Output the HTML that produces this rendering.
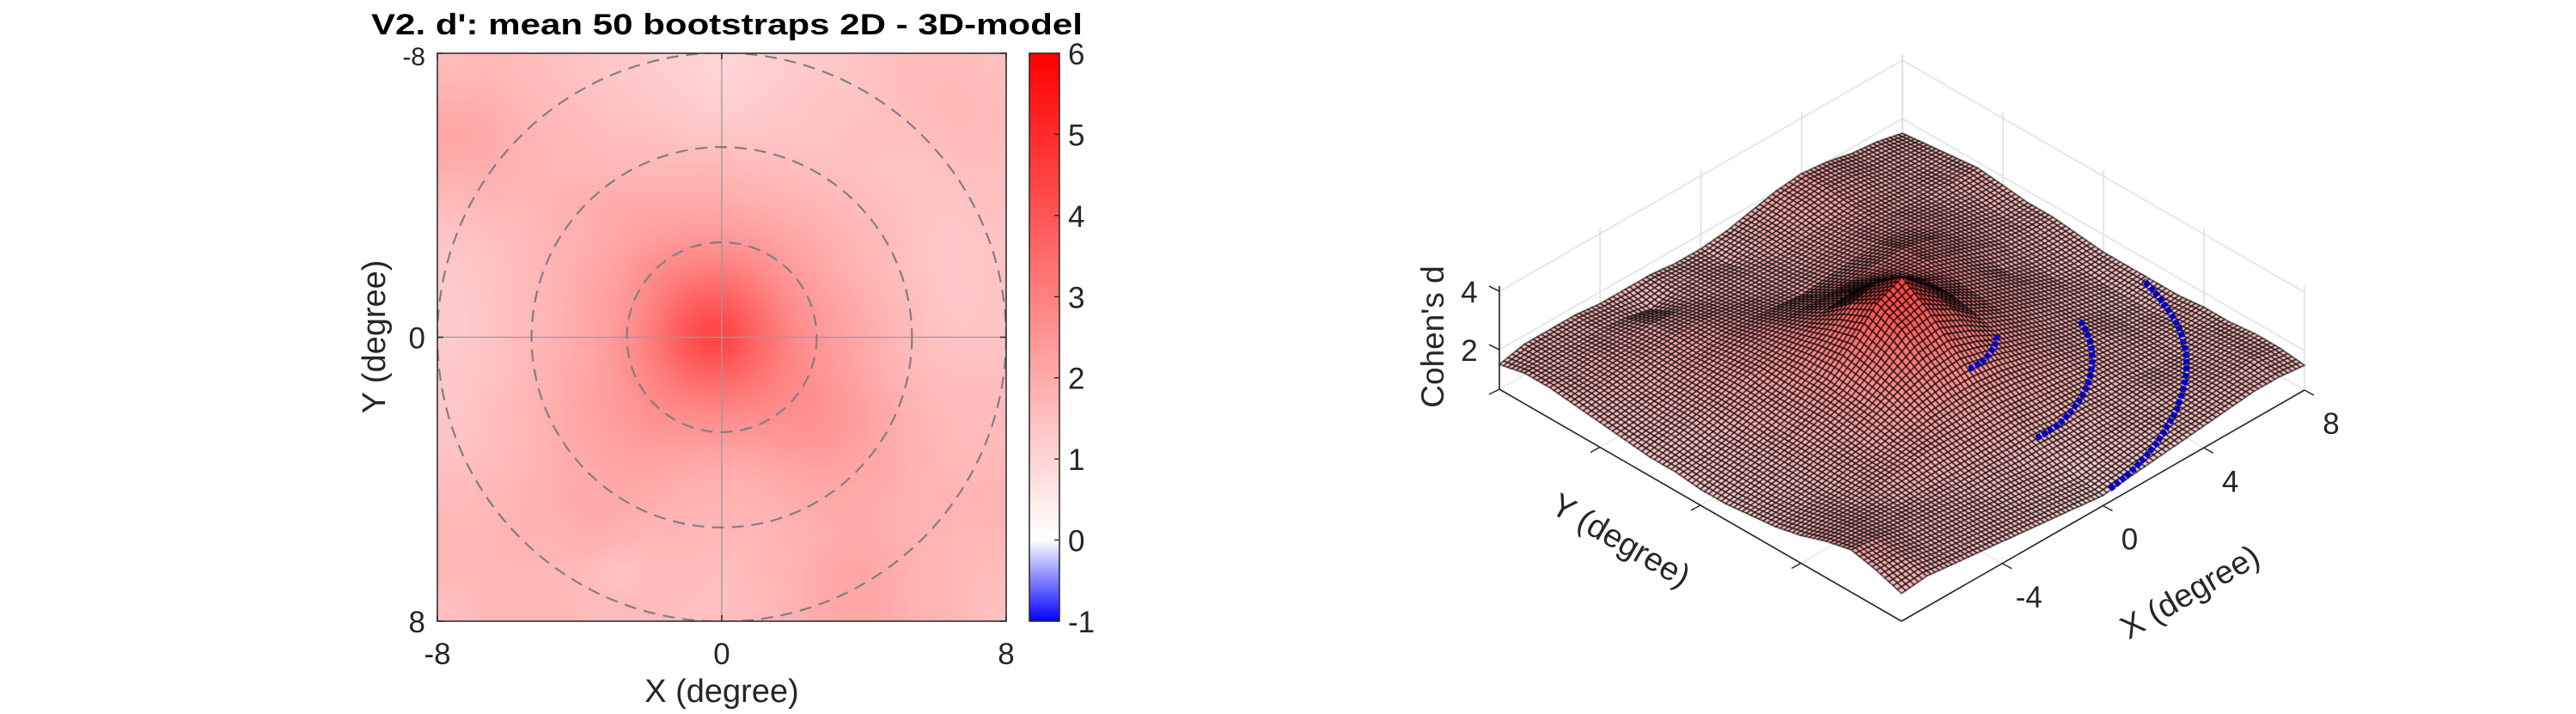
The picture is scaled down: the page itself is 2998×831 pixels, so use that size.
<!DOCTYPE html>
<html><head><meta charset="utf-8">
<style>
html,body{margin:0;padding:0;background:#fff;}
#wrap{position:relative;width:2998px;height:831px;overflow:hidden;background:#fff;font-family:"Liberation Sans",Arial,sans-serif;}
canvas,svg{position:absolute;}
</style></head>
<body>
<div id="wrap">
<canvas id="heat" width="662" height="661" style="left:509px;top:62px;"></canvas>
<canvas id="surf" width="1300" height="831" style="left:1600px;top:0px;"></canvas>
<svg id="ov" width="2998" height="831" style="left:0;top:0;"></svg>
</div>
<script>
// ---- data ----
const xTicks = [-8, 0, 8];
const yTicks = [-8, 0, 8];
const cbTicks = [6, 5, 4, 3, 2, 1, 0, -1];
const circleRadii = [2.67, 5.35, 8.0];
const zTicks = [2, 4];
const xTicks3d = [-4, 0, 4, 8];
const arcStartDeg = [-90, -90, -88];
const arcEndDeg = [-45, -23, -13];
// rows y=-8..8, columns x=-8..8
const gridRows = [
[1.6,1.7,1.6,1.5,1.4,1.3,1.2,1.1,1.0,1.1,1.2,1.3,1.4,1.5,1.6,1.6,1.5],
[1.9,1.9,1.7,1.6,1.5,1.4,1.3,1.2,1.1,1.2,1.3,1.4,1.4,1.5,1.6,1.7,1.6],
[2.1,2.0,1.8,1.7,1.6,1.5,1.5,1.4,1.4,1.4,1.4,1.4,1.5,1.5,1.5,1.6,1.6],
[1.9,1.9,1.8,1.7,1.7,1.7,1.7,1.7,1.7,1.6,1.6,1.5,1.5,1.4,1.4,1.5,1.5],
[1.6,1.7,1.7,1.8,1.9,2.0,2.0,2.0,2.0,1.9,1.8,1.7,1.6,1.5,1.4,1.4,1.5],
[1.4,1.5,1.6,1.8,1.9,2.1,2.3,2.4,2.4,2.3,2.1,1.9,1.7,1.6,1.4,1.3,1.4],
[1.3,1.4,1.6,1.8,2.0,2.3,2.7,3.0,3.1,2.8,2.4,2.1,1.8,1.6,1.4,1.3,1.4],
[1.2,1.4,1.6,1.8,2.1,2.4,3.0,3.7,3.9,3.4,2.7,2.3,2.0,1.7,1.5,1.3,1.4],
[1.2,1.4,1.6,1.8,2.1,2.5,3.2,4.1,4.5,3.7,2.9,2.4,2.1,1.8,1.5,1.4,1.4],
[1.3,1.4,1.6,1.9,2.1,2.5,3.0,3.6,3.8,3.4,2.9,2.5,2.2,1.8,1.6,1.5,1.5],
[1.3,1.5,1.7,1.9,2.2,2.4,2.7,2.9,3.0,2.9,2.7,2.6,2.3,2.0,1.7,1.6,1.6],
[1.4,1.5,1.7,1.9,2.1,2.3,2.4,2.4,2.4,2.4,2.5,2.5,2.3,2.0,1.8,1.6,1.6],
[1.5,1.6,1.7,1.9,2.0,2.1,2.1,2.0,1.9,2.0,2.1,2.2,2.1,2.0,1.8,1.7,1.7],
[1.6,1.7,1.8,1.9,2.0,2.0,1.9,1.8,1.8,1.8,1.9,2.0,2.0,1.9,1.8,1.8,1.8],
[1.7,1.7,1.8,1.8,1.9,1.8,1.7,1.7,1.7,1.7,1.8,1.9,2.0,1.9,1.8,1.7,1.7],
[1.7,1.7,1.7,1.7,1.6,1.4,1.6,1.6,1.5,1.7,1.8,2.0,2.1,2.0,1.8,1.7,1.6],
[1.5,1.7,1.7,1.7,1.6,1.6,1.6,1.5,1.5,1.6,1.8,2.0,2.1,2.0,1.8,1.7,1.5]
];

// ---- helpers ----
const NS = "http://www.w3.org/2000/svg";
const ov = document.getElementById('ov');
function mk(tag, attrs, parent){ const e=document.createElementNS(NS,tag); for(const k in attrs) e.setAttribute(k,attrs[k]); (parent||ov).appendChild(e); return e; }
function cmap(v){ if(v>=0){const t=Math.min(v/6,1); const c=Math.round(255*(1-t)); return [255,c,c];} const t=Math.max(1+v,0); const c=Math.round(255*t); return [c,c,255]; }
const NG = gridRows.length;
function zAt(x,y){
  let fx=(x+8)/16*(NG-1), fy=(y+8)/16*(NG-1);
  fx=Math.max(0,Math.min(NG-1,fx)); fy=Math.max(0,Math.min(NG-1,fy));
  const i0=Math.min(Math.floor(fx),NG-2), j0=Math.min(Math.floor(fy),NG-2);
  const tx=fx-i0, ty=fy-j0;
  const a=gridRows[j0][i0], b=gridRows[j0][i0+1], c=gridRows[j0+1][i0], d=gridRows[j0+1][i0+1];
  return (a*(1-tx)+b*tx)*(1-ty)+(c*(1-tx)+d*tx)*ty;
}

// ---- 2D heatmap ----
const H = {l:509, t:62, w:662, h:661};
const sx = v => H.l + (v+8)/16*H.w;
const sy = v => H.t + (v+8)/16*H.h;
(function(){
  const off=document.createElement('canvas'); off.width=NG; off.height=NG;
  const oc=off.getContext('2d'); const img=oc.createImageData(NG,NG);
  for(let j=0;j<NG;j++) for(let i=0;i<NG;i++){ const c=cmap(gridRows[j][i]); const p=(j*NG+i)*4; img.data[p]=c[0];img.data[p+1]=c[1];img.data[p+2]=c[2];img.data[p+3]=255; }
  oc.putImageData(img,0,0);
  const ctx=document.getElementById('heat').getContext('2d');
  ctx.imageSmoothingEnabled=true; ctx.imageSmoothingQuality='high';
  ctx.drawImage(off,0,0,H.w,H.h);
})();
const g2 = mk('g',{});
 
const clipD = mk('defs',{},g2);
const cp = mk('clipPath',{id:'hclip'},clipD);
mk('rect',{x:H.l,y:H.t,width:H.w,height:H.h},cp);
let e;
e=mk('line',{x1:sx(0),y1:H.t,x2:sx(0),y2:H.t+H.h,stroke:'#9a9a9a','stroke-width':1.3},g2);
 
e=mk('line',{x1:H.l,y1:sy(0),x2:H.l+H.w,y2:sy(0),stroke:'#9a9a9a','stroke-width':1.3},g2);
 
circleRadii.forEach((r,k)=>{
  const c=mk('circle',{cx:sx(0),cy:sy(0),r:r/16*H.w,fill:'none',stroke:'#808080','stroke-width':2.2,'stroke-dasharray':'14 9','clip-path':'url(#hclip)'},g2);
   
});
e=mk('rect',{x:H.l,y:H.t,width:H.w,height:H.h,fill:'none',stroke:'#262626','stroke-width':1.5},g2);
 
xTicks.forEach(v=>{
  mk('line',{x1:sx(v),y1:H.t+H.h,x2:sx(v),y2:H.t+H.h-7,stroke:'#262626','stroke-width':1.5},g2);
  mk('line',{x1:sx(v),y1:H.t,x2:sx(v),y2:H.t+7,stroke:'#262626','stroke-width':1.5},g2);
  const t=mk('text',{x:sx(v),y:773,'font-size':35,fill:'#262626','text-anchor':'middle'},g2); t.textContent=v;
   
});
yTicks.forEach(v=>{
  mk('line',{x1:H.l,y1:sy(v),x2:H.l+7,y2:sy(v),stroke:'#262626','stroke-width':1.5},g2);
  mk('line',{x1:H.l+H.w,y1:sy(v),x2:H.l+H.w-7,y2:sy(v),stroke:'#262626','stroke-width':1.5},g2);
  const top = v===yTicks[0];
  const t=mk('text',{x:495,y:top?76:sy(v)+13,'font-size':top?30:35,fill:'#262626','text-anchor':'end'},g2); t.textContent=v;
   
});
e=mk('text',{x:840,y:817,'font-size':38,fill:'#262626','text-anchor':'middle'},g2); e.textContent='X (degree)';
 
e=mk('text',{x:0,y:0,'font-size':38,fill:'#262626','text-anchor':'middle',transform:'translate(448,392) rotate(-90)'},g2); e.textContent='Y (degree)';
 
e=mk('text',{x:846,y:40,'font-size':34,'font-weight':'bold',fill:'#000','text-anchor':'middle',textLength:828,lengthAdjust:'spacingAndGlyphs'},g2);
e.textContent="V2. d': mean 50 bootstraps 2D - 3D-model";
 

// colorbar
const CB={l:1198,t:62,w:35,h:661,min:-1,max:6};
const cby = v => CB.t + (CB.max-v)/(CB.max-CB.min)*CB.h;
const cbg=mk('g',{});
 
const lg=mk('linearGradient',{id:'cbgrad',x1:0,y1:0,x2:0,y2:1},mk('defs',{},cbg));
mk('stop',{offset:'0','stop-color':'#ff0000'},lg);
mk('stop',{offset:((CB.max-0)/(CB.max-CB.min)).toFixed(4),'stop-color':'#ffffff'},lg);
mk('stop',{offset:'1','stop-color':'#0000ff'},lg);
mk('rect',{x:CB.l,y:CB.t,width:CB.w,height:CB.h,fill:'url(#cbgrad)',stroke:'#262626','stroke-width':1.5},cbg);
cbTicks.forEach(v=>{
  mk('line',{x1:CB.l+CB.w,y1:cby(v),x2:CB.l+CB.w-6,y2:cby(v),stroke:'#262626','stroke-width':1.3},cbg);
  const t=mk('text',{x:1243,y:cby(v)+13,'font-size':35,fill:'#262626'},cbg); t.textContent=v;
   
});

// ---- 3D surface ----
const P = {B:[2213,723], L:[1745,453], R:[2682,454], zmin:0.65, zs:34};
function proj(x,y,z){
  const fx=(x+8)/16, fy=(y+8)/16;
  return [P.B[0]+fx*(P.R[0]-P.B[0])+fy*(P.L[0]-P.B[0]),
          P.B[1]+fx*(P.R[1]-P.B[1])+fy*(P.L[1]-P.B[1])-(z-P.zmin)*P.zs];
}
const g3=mk('g',{});
 
const sc=document.getElementById('surf').getContext('2d');
const OX=1600;
function line(ctx,a,b,col,w){ctx.strokeStyle=col;ctx.lineWidth=w;ctx.beginPath();ctx.moveTo(a[0]-OX,a[1]);ctx.lineTo(b[0]-OX,b[1]);ctx.stroke();}
const gc='#dedede';
[-8,-4,0,4,8].forEach(v=>{
  line(sc,proj(v,8,P.zmin),proj(v,8,4.2),gc,1.6);
  line(sc,proj(8,v,P.zmin),proj(8,v,4.2),gc,1.6);
  line(sc,proj(v,-8,P.zmin),proj(v,8,P.zmin),gc,1.4);
  line(sc,proj(-8,v,P.zmin),proj(8,v,P.zmin),gc,1.4);
});
zTicks.forEach(z=>{ line(sc,proj(-8,8,z),proj(8,8,z),gc,1.6); line(sc,proj(8,8,z),proj(8,-8,z),gc,1.6); });
const N=96;
const Zs=[];
for(let j=0;j<=N;j++){Zs.push([]);for(let i=0;i<=N;i++){Zs[j].push(zAt(-8+16*i/N,-8+16*j/N));}}
const Ps=[];
for(let j=0;j<=N;j++){Ps.push([]);for(let i=0;i<=N;i++){Ps[j].push(proj(-8+16*i/N,-8+16*j/N,Zs[j][i]));}}
sc.lineWidth=1.35; sc.strokeStyle='rgba(0,0,0,0.85)';
for(let s=2*N-2;s>=0;s--){
  for(let i=Math.max(0,s-(N-1));i<=Math.min(N-1,s);i++){
    const j=s-i;
    const zc=(Zs[j][i]+Zs[j][i+1]+Zs[j+1][i]+Zs[j+1][i+1])/4;
    const c=cmap(zc);
    sc.fillStyle='rgb('+c[0]+','+c[1]+','+c[2]+')';
    const a=Ps[j][i],b=Ps[j][i+1],d=Ps[j+1][i+1],f=Ps[j+1][i];
    sc.beginPath();sc.moveTo(a[0]-OX,a[1]);sc.lineTo(b[0]-OX,b[1]);sc.lineTo(d[0]-OX,d[1]);sc.lineTo(f[0]-OX,f[1]);sc.closePath();
    sc.fill();sc.stroke();
  }
}
circleRadii.forEach((r,k)=>{
  const pts=[];
  for(let t=0;t<=60;t++){
    const a=(arcStartDeg[k]+(arcEndDeg[k]-arcStartDeg[k])*t/60)*Math.PI/180;
    const x=r*Math.cos(a), y=r*Math.sin(a);
    pts.push(proj(x,y,zAt(x,y)+0.05).join(','));
  }
  const pl=mk('polyline',{points:pts.join(' '),fill:'none',stroke:'#0000c8','stroke-width':7,'stroke-dasharray':'6 2'},g3);
   
});
function sl(a,b,col,w,name){const l=mk('line',{x1:a[0],y1:a[1],x2:b[0],y2:b[1],stroke:col,'stroke-width':w},g3);  }
sl(proj(-8,-8,P.zmin),proj(8,-8,P.zmin),'#262626',1.6,'x-axis-line');
sl(proj(-8,-8,P.zmin),proj(-8,8,P.zmin),'#262626',1.6,'y-axis-line');
sl(proj(-8,8,P.zmin),proj(-8,8,4.18),'#262626',1.6,'z-axis-line');
xTicks3d.forEach(v=>{
  const p=proj(v,-8,P.zmin);
  mk('line',{x1:p[0],y1:p[1],x2:p[0]+11,y2:p[1]+6,stroke:'#262626','stroke-width':1.5},g3);
  const t=mk('text',{x:p[0]+31,y:p[1]+38+13,'font-size':35,fill:'#262626','text-anchor':'middle'},g3); t.textContent=v;
   
});
[-4,0,4].forEach(v=>{
  const p=proj(-8,v,P.zmin);
  mk('line',{x1:p[0],y1:p[1],x2:p[0]-11,y2:p[1]+6,stroke:'#262626','stroke-width':1.5},g3);
});
zTicks.forEach(z=>{
  const p=proj(-8,8,z);
  mk('line',{x1:p[0],y1:p[1],x2:p[0]-12,y2:p[1]-6,stroke:'#262626','stroke-width':1.5},g3);
  const t=mk('text',{x:1710,y:p[1]+13,'font-size':35,fill:'#262626','text-anchor':'middle'},g3); t.textContent=z;
   
});
mk('line',{x1:1745,y1:453,x2:1733,y2:459,stroke:'#262626','stroke-width':1.5},g3);
e=mk('text',{x:0,y:0,'font-size':37,fill:'#262626','text-anchor':'middle',transform:'translate(1680,392) rotate(-90)'},g3); e.textContent="Cohen's d";
 
e=mk('text',{x:0,y:0,'font-size':38,fill:'#262626','text-anchor':'middle',transform:'translate(1880,640) rotate(30)'},g3); e.textContent='Y (degree)';
 
e=mk('text',{x:0,y:0,'font-size':38,fill:'#262626','text-anchor':'middle',transform:'translate(2555,700) rotate(-30)'},g3); e.textContent='X (degree)';
 
</script>
</body></html>
